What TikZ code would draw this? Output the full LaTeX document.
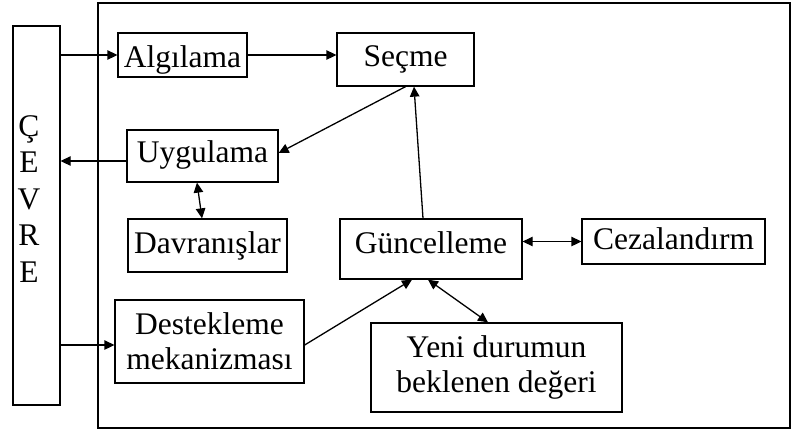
\documentclass[tikz,border=0pt]{standalone}
\usepackage{fontspec}
\setmainfont{Liberation Serif}
\usetikzlibrary{arrows.meta}
\begin{document}
\begin{tikzpicture}[x=1pt,y=-1pt,
  line width=1.3pt,
  box/.style={draw, inner sep=0pt, align=center, text depth=0pt,
    font=\fontsize{31.5}{35}\selectfont},
  tall/.style={draw, inner sep=0pt, align=center,
    font=\fontsize{31.5}{35}\selectfont},
  tip/.tip={Triangle[length=10pt,width=9.5pt]},
  arr/.style={-tip},
  darr/.style={tip-tip}]
% canvas
\fill[white] (0,0) rectangle (794,431);
\useasboundingbox (0,0) rectangle (794,431);
% frame of the agent
\draw (98,3) rectangle (790,428);
% environment column
\node[draw, inner sep=0pt, minimum width=47pt, minimum height=379pt] (cevre) at (36.5,215.5) {};
\node[align=center, inner sep=0pt, font=\fontsize{31.5}{36.5}\selectfont] (cevretxt) at (29,199) {Ç\\E\\V\\R\\E};
% blocks
\node[box, text height=24.8pt, minimum width=129pt, minimum height=44pt] (alg) at (182.5,55) {Algılama};
\node[box, text height=13.8pt, minimum width=137pt, minimum height=53pt] (sec) at (405.5,59.5) {Seçme};
\node[box, text height=13.8pt, minimum width=151pt, minimum height=52pt] (uyg) at (202.5,156) {Uygulama};
\node[box, text height=15.8pt, minimum width=159pt, minimum height=53pt] (dav) at (207.5,245.5) {Davranışlar};
\node[box, text height=8.8pt, minimum width=182pt, minimum height=60pt] (gun) at (431,249) {Güncelleme};
\node[box, text height=15.8pt, minimum width=183pt, minimum height=45pt] (cez) at (673.5,241.5) {Cezalandırm};
\node[tall, minimum width=189pt, minimum height=83pt] (des) at (209.5,341.5) {Destekleme\\mekanizması};
\node[tall, minimum width=251pt, minimum height=89pt] (yeni) at (496.5,367.5) {Yeni durumun\\beklenen değeri};
% attachment points
\coordinate (uygout) at ([yshift=-5pt]uyg.west);
\coordinate (desin) at ([yshift=-3.5pt]des.west);
% connectors
\draw[arr] (cevre.east |- alg.west) -- (alg.west);
\draw[arr] (alg.east) -- (alg.east -| sec.west);
\draw[arr] (sec.south) -- ([yshift=3pt]uyg.east);
\draw[arr] (uygout) -- (cevre.east |- uygout);
\draw[darr] ([xshift=-5.5pt]uyg.south) -- ([xshift=-5.5pt]dav.north);
\draw[arr] ([xshift=-8pt]gun.north) -- ([xshift=8.5pt]sec.south);
\draw[darr] (gun.east |- cez.west) -- (cez.west);
\draw[arr] ([yshift=-3.5pt]des.east) -- ([xshift=-19pt]gun.south);
\draw[darr] ([xshift=-3pt]gun.south) -- ([xshift=-8.5pt]yeni.north);
\draw[arr] (cevre.east |- desin) -- (desin);
\end{tikzpicture}
\end{document}
